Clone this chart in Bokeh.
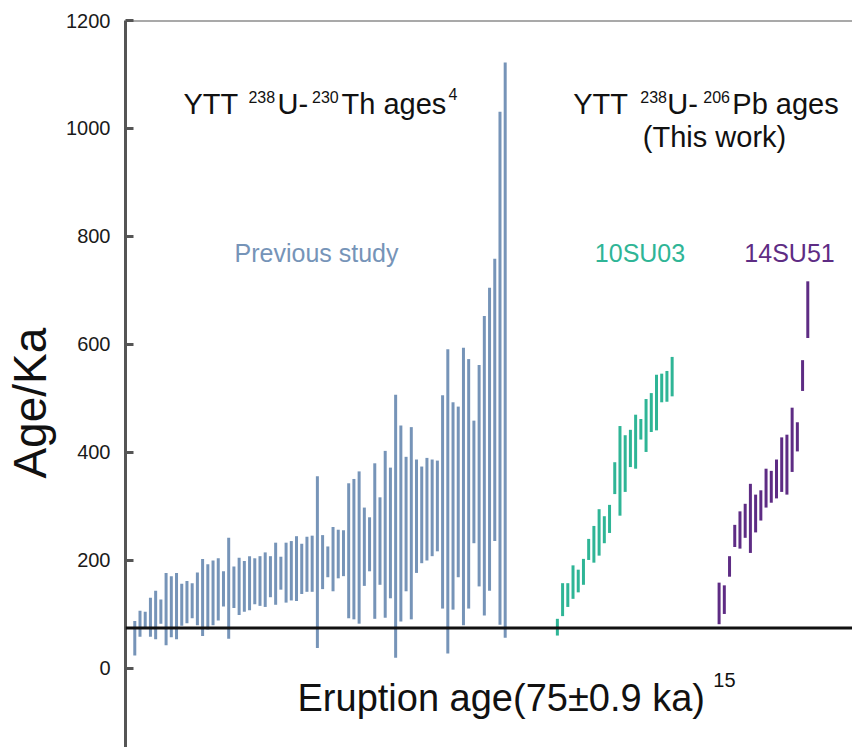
from bokeh.plotting import figure
from bokeh.models import Span, Label, FixedTicker, Range1d
from bokeh.embed import file_html
from bokeh.resources import INLINE

# ---------------- data ----------------
# Previous study (YTT 238U-230Th ages), low / high of each age interval (ka)
prev_low = [24, 59, 73, 59, 54, 83, 43, 58, 54, 79, 84, 93, 80, 60, 72, 80, 89, 115,
            55, 112, 99, 105, 108, 119, 116, 114, 132, 118, 146, 122, 126, 125, 138, 142,
            142, 38, 147, 169, 143, 167, 171, 93, 91, 83, 153, 180, 92, 155, 94, 130,
            20, 87, 143, 91, 177, 195, 200, 208, 217, 111, 28, 109, 169, 80, 111, 232,
            152, 98, 144, 236, 81, 57]
prev_high = [88, 107, 105, 131, 144, 128, 177, 171, 177, 157, 162, 158, 178, 203, 193, 200,
             204, 180, 242, 189, 205, 199, 208, 204, 208, 215, 208, 233, 207, 233, 236, 245,
             231, 244, 246, 356, 247, 226, 262, 257, 256, 343, 351, 365, 298, 280, 380, 317,
             403, 372, 507, 450, 392, 447, 387, 374, 390, 387, 385, 506, 591, 493, 485, 594,
             573, 459, 562, 653, 705, 759, 1031, 1122]

# This work, sample 10SU03 (238U-206Pb ages)
su03_low = [61, 97, 114, 129, 141, 155, 201, 196, 209, 232, 251, 323, 283, 327, 373, 370,
            424, 401, 438, 441, 493, 494, 504]
su03_high = [92, 158, 158, 191, 183, 203, 240, 264, 295, 282, 303, 382, 449, 432, 442, 470,
             462, 499, 510, 544, 546, 551, 577]

# This work, sample 14SU51 (238U-206Pb ages)
su51_low = [82, 101, 170, 225, 222, 242, 214, 252, 274, 298, 307, 315, 327, 322, 364, 402,
            514, 612]
su51_high = [159, 154, 208, 266, 291, 305, 342, 322, 330, 370, 366, 387, 428, 433, 483, 456,
             571, 717]

eruption_age = 75  # ka
y_ticks = [0, 200, 400, 600, 800, 1000, 1200]

# analysis order along the x direction (groups separated by gaps)
gap_prev_su03 = 10
gap_su03_su51 = 9
prev_x = list(range(1, len(prev_low) + 1))
su03_start = prev_x[-1] + gap_prev_su03
su03_x = list(range(su03_start, su03_start + len(su03_low)))
su51_start = su03_x[-1] + gap_su03_su51
su51_x = list(range(su51_start, su51_start + len(su51_low)))

C_PREV = "#7694b8"
C_SU03 = "#2fb596"
C_SU51 = "#5e2c84"
FONT = "Liberation Sans"

p = figure(width=852, height=747, output_backend="svg", toolbar_location=None,
           x_range=Range1d(-0.78, 138.57), y_range=Range1d(-146.3, 1200),
           x_axis_type=None, min_border_left=125, min_border_right=0,
           min_border_top=20, min_border_bottom=0)
p.outline_line_color = None
p.grid.visible = False
p.background_fill_color = "white"
p.border_fill_color = "white"

# bars
p.segment(x0=prev_x, y0=prev_low, x1=prev_x, y1=prev_high, line_color=C_PREV, line_width=3)
p.segment(x0=su03_x, y0=su03_low, x1=su03_x, y1=su03_high, line_color=C_SU03, line_width=3)
p.segment(x0=su51_x, y0=su51_low, x1=su51_x, y1=su51_high, line_color=C_SU51, line_width=3)

# eruption age line and top border
p.add_layout(Span(location=eruption_age, dimension="width", line_color="#111111", line_width=3))
p.add_layout(Span(location=y_ticks[-1], dimension="width", line_color="#555555", line_width=2))

# y axis
ax = p.yaxis[0]
ax.ticker = FixedTicker(ticks=y_ticks)
ax.axis_line_color = "#555555"
ax.axis_line_width = 3
ax.major_tick_line_color = "#555555"
ax.major_tick_line_width = 3
ax.major_tick_in = 8
ax.major_tick_out = 0
ax.minor_tick_line_color = None
ax.major_label_text_font = FONT
ax.major_label_text_font_size = "20px"
ax.major_label_text_color = "#1a1a1a"
ax.major_label_standoff = 15
# trailing no-break spaces shift the centred title slightly downward
ax.axis_label = "Age/Ka\u00a0\u00a0\u00a0"
ax.axis_label_text_font = FONT
ax.axis_label_text_font_size = "46px"
ax.axis_label_text_font_style = "normal"
ax.axis_label_text_color = "#111111"
ax.axis_label_standoff = 7


def lab(x, y, text, size, color="#111111", align="left"):
    p.add_layout(Label(x=x, y=y, text=text, text_font=FONT, text_font_size=size,
                       text_color=color, text_align=align, text_baseline="alphabetic"))


# title left: YTT 238U-230Th ages^4
lab(10.33, 1045.7, "YTT", "29px")
lab(22.79, 1059, "238", "16px")
lab(28.35, 1045.7, "U-", "29px")
lab(34.97, 1059, "230", "16px")
lab(40.62, 1045.7, "Th ages", "29px")
lab(61.13, 1064, "4", "16px")

# title right: YTT 238U-206Pb ages (This work)
lab(85.05, 1045.7, "YTT", "29px")
lab(97.90, 1059, "238", "16px")
lab(103.07, 1045.7, "U-", "29px")
lab(109.97, 1059, "206", "16px")
lab(115.53, 1045.7, "Pb ages", "29px")
lab(112.12, 984.6, "(This work)", "29px", align="center")

# group labels
lab(35.83, 769.5, "Previous study", "25px", C_PREV, "center")
lab(97.84, 769.5, "10SU03", "25px", C_SU03, "center")
lab(126.5, 769.5, "14SU51", "25px", C_SU51, "center")

# eruption age
lab(32.19, -54.8, "Eruption age(75\u00b10.9 ka)", "38px")
lab(111.9, -21.0, "15", "20px")

open("out.html", "w").write(file_html(p, INLINE))
